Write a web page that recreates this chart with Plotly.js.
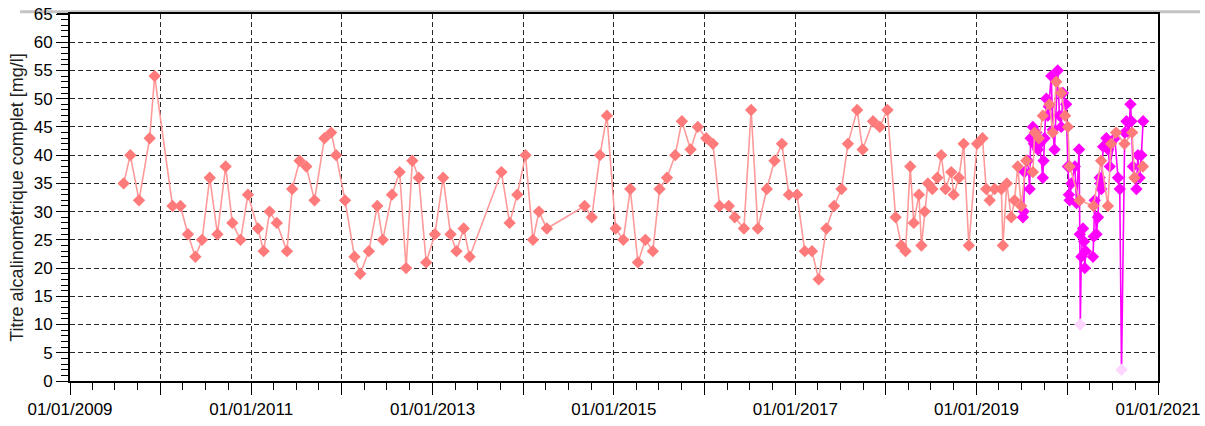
<!DOCTYPE html>
<html>
<head>
<meta charset="utf-8">
<script src="https://cdn.plot.ly/plotly-3.0.1.min.js"></script>
<style>
html,body{margin:0;padding:0;background:#fff;}
#chart{width:1205px;height:426px;}
</style>
</head>
<body>
<div id="chart"></div>
<script>
// Series 1 (salmon)
const salmonDates = [
"2009-08-05","2009-09-01","2009-10-06","2009-11-18","2009-12-08",
"2010-02-18","2010-03-22","2010-04-21","2010-05-21","2010-06-17","2010-07-18","2010-08-18","2010-09-20","2010-10-17","2010-11-19","2010-12-19",
"2011-01-28","2011-02-20","2011-03-16","2011-04-14","2011-05-25","2011-06-15","2011-07-15","2011-08-11","2011-09-13","2011-10-23","2011-11-19","2011-12-09",
"2012-01-14","2012-02-21","2012-03-15","2012-04-19","2012-05-23","2012-06-14","2012-07-21","2012-08-21","2012-09-16","2012-10-11","2012-11-06","2012-12-06",
"2013-01-10","2013-02-12","2013-03-14","2013-04-07","2013-05-06","2013-05-30","2013-10-05","2013-11-07","2013-12-08",
"2014-01-10","2014-02-09","2014-03-05","2014-04-06","2014-09-05","2014-10-04","2014-11-06","2014-12-04",
"2015-01-08","2015-02-08","2015-03-08","2015-04-08","2015-05-08","2015-06-07","2015-07-04","2015-08-03","2015-09-05","2015-10-02","2015-11-06","2015-12-05",
"2016-01-08","2016-02-04","2016-03-02","2016-04-08","2016-05-02","2016-06-08","2016-07-07","2016-08-03","2016-09-08","2016-10-09","2016-11-08","2016-12-06",
"2017-01-08","2017-02-08","2017-03-09","2017-04-05","2017-05-06","2017-06-06","2017-07-06","2017-08-01","2017-09-07","2017-09-29","2017-11-10","2017-12-07",
"2018-01-07","2018-02-09","2018-03-04","2018-03-21","2018-04-09","2018-04-23","2018-05-14","2018-05-24","2018-06-06","2018-06-19","2018-07-07","2018-07-27","2018-08-12","2018-08-29","2018-09-21","2018-10-01","2018-10-22","2018-11-10","2018-12-01",
"2019-01-03","2019-01-25","2019-02-09","2019-02-23","2019-03-15","2019-04-11","2019-04-17","2019-05-03","2019-05-21","2019-06-03","2019-06-16","2019-06-30","2019-07-20","2019-08-16","2019-08-23","2019-09-09","2019-09-25","2019-10-22","2019-11-04","2019-11-18","2019-12-08","2019-12-24",
"2020-01-04","2020-01-11","2020-02-20","2020-04-16","2020-05-17","2020-06-13","2020-06-26","2020-07-16","2020-08-19","2020-09-19","2020-09-28","2020-11-01"
];
const salmonValues = [
35,40,32,43,54,
31,31,26,22,25,36,26,38,28,25,33,
27,23,30,28,23,34,39,38,32,43,44,40,
32,22,19,23,31,25,33,37,20,39,36,21,
26,36,26,23,27,22,37,28,33,
40,25,30,27,31,29,40,47,
27,25,34,21,25,23,34,36,40,46,41,45,
43,42,31,31,29,27,48,27,34,39,42,33,
33,23,23,18,27,31,34,42,48,41,46,45,
48,29,24,23,38,28,33,24,30,35,34,36,40,34,37,33,36,42,24,
42,43,34,32,34,34,24,35,29,32,38,31,39,37,44,43,47,49,44,53,51,47,
45,38,32,31,39,31,42,44,42,44,36,38
];

// Series 2 (magenta)
const magentaDates = [
"2019-07-07","2019-07-10","2019-07-13","2019-07-27","2019-08-03","2019-08-07","2019-08-16","2019-08-20","2019-08-30","2019-09-05","2019-09-12","2019-09-25","2019-09-28","2019-10-02","2019-10-09","2019-10-15","2019-10-19","2019-10-29","2019-11-04","2019-11-11","2019-11-24","2019-12-01","2019-12-08","2019-12-15","2019-12-28",
"2020-01-04","2020-01-08","2020-01-11","2020-01-18","2020-02-01","2020-02-08","2020-02-18","2020-02-21","2020-02-23","2020-02-27","2020-03-05","2020-03-09","2020-03-12","2020-03-16",
"2020-04-14","2020-04-17","2020-04-21","2020-04-28","2020-05-04","2020-05-11","2020-05-14","2020-05-18","2020-05-25","2020-06-07","2020-06-14","2020-06-21","2020-07-11","2020-07-24","2020-07-31","2020-08-07",
"2020-08-20","2020-08-27","2020-09-05","2020-09-12","2020-09-16","2020-09-22","2020-10-06","2020-10-12","2020-10-19","2020-10-26","2020-11-02"
];
const magentaValues = [
29,30,37,39,34,43,45,42,44,41,42,36,39,43,50,47,48.6,54,44.5,41,55,47,45,51,49,
38,33,32,35,38,31.5,41,26,10,22,27,24.7,20,23,
22,25.6,32,26,29,36,35,34,41.5,43,41,38,43,36,34,2,
44,46,44,49,46,38,34,40,36,40,46
];

// Axis ticks
const yearTicks = ["2009-01-01","2010-01-01","2011-01-01","2012-01-01","2013-01-01","2014-01-01","2015-01-01","2016-01-01","2017-01-01","2018-01-01","2019-01-01","2020-01-01","2021-01-01"];
const yearLabels = ["01/01/2009","","01/01/2011","","01/01/2013","","01/01/2015","","01/01/2017","","01/01/2019","","01/01/2021"];
const yTitle = "Titre alcalinométrique complet [mg/l]";

const magentaMarkerColors = magentaValues.map(v => v < 15 ? "#FFD6FF" : "#FF00FF");

const traces = [
  {
    x: magentaDates, y: magentaValues, type: "scatter", mode: "lines+markers",
    line: {color: "#FF00FF", width: 1.6},
    marker: {symbol: "diamond", size: 9.5, color: magentaMarkerColors},
    hoverinfo: "x+y"
  },
  {
    x: salmonDates, y: salmonValues, type: "scatter", mode: "lines+markers",
    line: {color: "#FF9A9A", width: 1.6},
    marker: {symbol: "diamond", size: 9.5, color: "#FF7A7A"},
    hoverinfo: "x+y"
  }
];

const font = {family: "Liberation Sans, Arial, sans-serif", size: 17, color: "#000"};
const layout = {
  width: 1205, height: 426,
  margin: {l: 70, r: 47, t: 14, b: 45},
  paper_bgcolor: "#fff", plot_bgcolor: "#fff",
  showlegend: false,
  font: font,
  xaxis: {
    type: "date",
    range: ["2009-01-01", "2021-01-01"],
    tickmode: "array", tickvals: yearTicks, ticktext: yearLabels,
    ticks: "outside", ticklen: 12, tickwidth: 1, tickcolor: "#000",
    tickfont: font,
    showgrid: true, gridcolor: "#262626", gridwidth: 1, griddash: "5px,3px",
    showline: true, linecolor: "#000", linewidth: 2, mirror: true,
    zeroline: false,
    minor: {dtick: "M3", ticks: "outside", ticklen: 7, tickcolor: "#000", tickwidth: 1, showgrid: false}
  },
  yaxis: {
    range: [0, 65],
    tickmode: "linear", tick0: 0, dtick: 5,
    ticks: "outside", ticklen: 12, tickwidth: 1, tickcolor: "#000",
    tickfont: font,
    showgrid: true, gridcolor: "#262626", gridwidth: 1, griddash: "5px,3px",
    showline: true, linecolor: "#000", linewidth: 2, mirror: true,
    zeroline: false,
    title: {text: yTitle, font: {family: "Liberation Sans, Arial, sans-serif", size: 18, color: "#222"}, standoff: 5},
    minor: {dtick: 1, ticks: "outside", ticklen: 7, tickcolor: "#000", tickwidth: 1, showgrid: false}
  },
  shapes: [
    {type: "line", xref: "paper", yref: "paper", layer: "below",
     x0: -0.046, x1: 1.0386, y0: 1.006, y1: 1.006,
     line: {color: "#c4c4c4", width: 3}},
    {type: "line", xref: "paper", yref: "paper", layer: "above",
     x0: -0.012, x1: 0, y0: 1, y1: 1,
     line: {color: "#000", width: 2}}
  ]
};

Plotly.newPlot("chart", traces, layout, {staticPlot: true, displayModeBar: false});
</script>
</body>
</html>
